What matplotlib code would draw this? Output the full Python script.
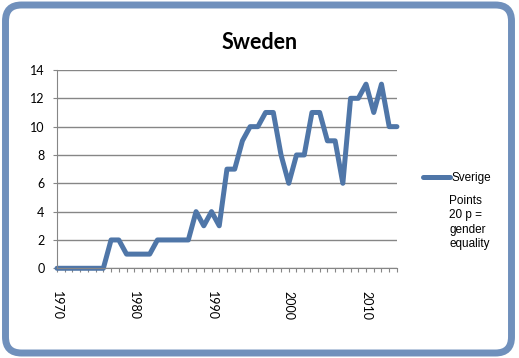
import matplotlib
matplotlib.use("Agg")
import matplotlib.pyplot as plt
from matplotlib.patches import FancyBboxPatch

# data
years = list(range(1970, 2015))
points = [0, 0, 0, 0, 0, 0, 0, 2, 2, 1,
          1, 1, 1, 2, 2, 2, 2, 2, 4, 3,
          4, 3, 7, 7, 9, 10, 10, 11, 11, 8,
          6, 8, 8, 11, 11, 9, 9, 6, 12, 12,
          13, 11, 13, 10, 10]
year_labels = [1970, 1980, 1990, 2000, 2010]
y_ticks = [0, 2, 4, 6, 8, 10, 12, 14]

line_col = '#4f76a8'
frame_col = '#7090bc'

fig = plt.figure(figsize=(5.19, 3.58), dpi=100)
fig.patch.set_facecolor('white')

# rounded frame round the whole chart
frame = FancyBboxPatch((0.055, 0.05), 5.06, 3.48,
                       boxstyle="round,pad=0,rounding_size=0.16",
                       transform=fig.dpi_scale_trans, facecolor='none',
                       edgecolor=frame_col, linewidth=5)
fig.patches.append(frame)

ax = fig.add_axes([0.1098, 0.2506, 0.655, 0.5539])
ax.plot(years, points, color=line_col, linewidth=3.6, solid_joinstyle='round',
        solid_capstyle='round', label='Sverige', clip_on=False)

ax.set_xlim(1970, 2014)
ax.set_ylim(0, 14)
ax.set_yticks(y_ticks)
ax.yaxis.grid(True, color='#868686', linewidth=1.0)
ax.set_axisbelow(True)

ax.set_xticks(years)
ax.set_xticklabels([str(y) if y in year_labels else '' for y in years],
                   rotation=-90, fontsize=9, family='Lato')
ax.tick_params(axis='x', direction='out', length=3, width=0.8, color='#868686', pad=13)
ax.tick_params(axis='y', direction='out', length=3, width=0.8, color='#868686', pad=6,
               labelsize=9)
for lab in ax.get_yticklabels():
    lab.set_family('Lato')

for side in ['top', 'right']:
    ax.spines[side].set_visible(False)
ax.spines['left'].set_color('#868686')
ax.spines['bottom'].set_color('#868686')

fig.text(0.50, 0.882, 'Sweden', ha='center', va='center', fontsize=15.5,
         fontweight='bold', family='Lato')

ax.legend(loc='center left', bbox_to_anchor=(0.795, 0.503), bbox_transform=fig.transFigure,
          frameon=False, handlelength=2.3, handletextpad=0.1,
          prop={'family': 'Liberation Sans', 'size': 8.5})
fig.text(0.866, 0.455, 'Points\n20 p =\ngender\nequality', ha='left', va='top',
         fontsize=8.5, family='Liberation Sans', linespacing=1.25)

fig.savefig('out.png', dpi=100)
